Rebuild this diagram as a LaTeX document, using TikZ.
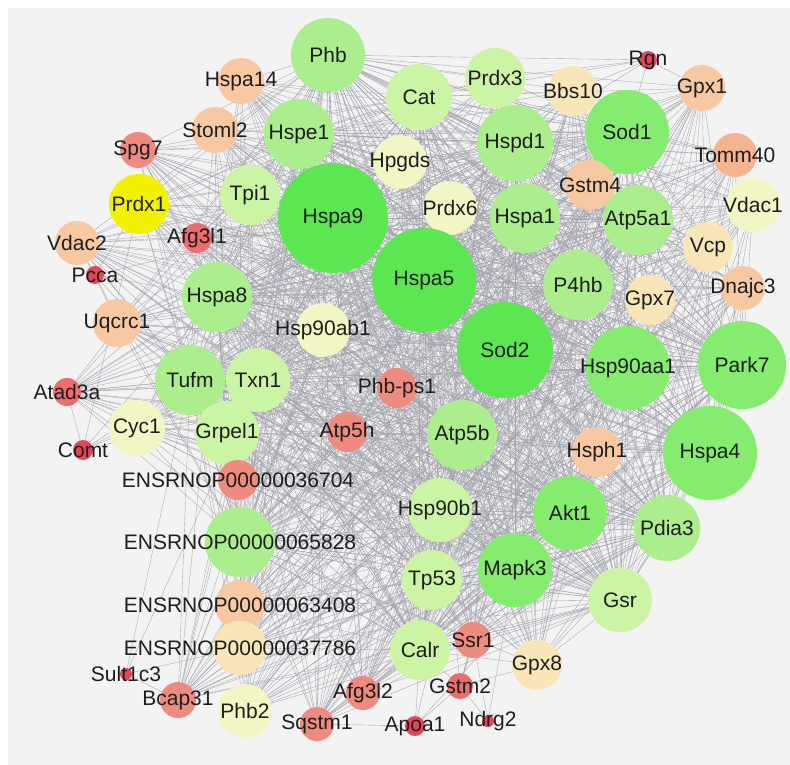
\documentclass[tikz,border=0pt]{standalone}
\usepackage{fontspec}
\setmainfont{Liberation Sans}
\definecolor{cDG}{HTML}{5CE652}
\definecolor{cMG}{HTML}{86EC70}
\definecolor{cLG}{HTML}{ACEE8E}
\definecolor{cYG}{HTML}{CBF4A4}
\definecolor{cPY}{HTML}{F2F5C4}
\definecolor{cTa}{HTML}{F9E6B8}
\definecolor{cPe}{HTML}{F8C8A2}
\definecolor{cPe2}{HTML}{F5B490}
\definecolor{cSa}{HTML}{EF8A80}
\definecolor{cRd2}{HTML}{EC6C70}
\definecolor{cRd}{HTML}{E4455A}
\definecolor{cYe}{HTML}{F2F200}
\definecolor{bgc}{HTML}{F3F3F3}
\definecolor{edgec}{HTML}{A4A4AE}
\definecolor{lblc}{HTML}{1E1E1E}
\pgfdeclarelayer{edges}
\pgfdeclarelayer{labels}
\pgfsetlayers{edges,main,labels}
\tikzset{
  gnode/.style={circle, inner sep=0pt, draw=none},
  glabel/.style={font=\fontsize{21}{25}\selectfont, text=lblc, inner sep=0pt},
  gedge/.style={draw=edgec, line width=0.35pt},
}
\newcommand\gn[6]{%
  \node[gnode, minimum size=#4*2pt, fill=#5] (#1) at (#2,#3) {};
  \begin{pgfonlayer}{labels}\node[glabel] (#1-t) at (#1) {#6};\end{pgfonlayer}}
\begin{document}
\begin{tikzpicture}[x=1pt,y=-1pt]
\begin{pgfonlayer}{edges}
\fill[white] (0,0) rectangle (790,765);
\fill[bgc] (8,8) rectangle (790,765);
\end{pgfonlayer}
\useasboundingbox (0,0) rectangle (790,765);
\gn{Phb}{328}{55}{37}{cLG}{Phb}
\gn{Hspa14}{241}{81}{23}{cPe}{Hspa14}
\gn{Stoml2}{215}{130}{23}{cPe}{Stoml2}
\gn{Spg7}{138}{150}{18}{cSa}{Spg7}
\gn{Prdx1}{139}{204}{30}{cYe}{Prdx1}
\gn{Hspe1}{299}{134}{35}{cLG}{Hspe1}
\gn{Tpi1}{250}{195}{30}{cYG}{Tpi1}
\gn{Hspa9}{333}{218}{55}{cDG}{Hspa9}
\gn{Afg3l1}{197}{238}{15}{cRd2}{Afg3l1}
\gn{Vdac2}{77}{243}{22}{cPe}{Vdac2}
\gn{Hpgds}{400}{162}{27}{cPY}{Hpgds}
\gn{Cat}{419}{97}{33}{cYG}{Cat}
\gn{Prdx3}{495}{78}{30}{cYG}{Prdx3}
\gn{Bbs10}{573}{91}{25}{cTa}{Bbs10}
\gn{Rgn}{648}{60}{9}{cRd}{Rgn}
\gn{Gpx1}{702}{88}{23}{cPe}{Gpx1}
\gn{Sod1}{627}{132}{42}{cMG}{Sod1}
\gn{Hspd1}{515}{143}{38}{cLG}{Hspd1}
\gn{Tomm40}{735}{155}{22}{cPe2}{Tomm40}
\gn{Gstm4}{590}{185}{25}{cPe}{Gstm4}
\gn{Vdac1}{753}{205}{27}{cPY}{Vdac1}
\gn{Prdx6}{450}{208}{27}{cPY}{Prdx6}
\gn{Hspa1}{525}{218}{35}{cLG}{Hspa1}
\gn{Atp5a1}{638}{220}{35}{cLG}{Atp5a1}
\gn{Vcp}{708}{247}{25}{cTa}{Vcp}
\gn{Hspa5}{424}{280}{52}{cDG}{Hspa5}
\gn{P4hb}{578}{285}{35}{cLG}{P4hb}
\gn{Gpx7}{650}{300}{25}{cTa}{Gpx7}
\gn{Dnajc3}{743}{288}{22}{cPe}{Dnajc3}
\gn{Sod2}{505}{350}{48}{cDG}{Sod2}
\gn{Hsp90aa1}{628}{368}{42}{cMG}{Hsp90aa1}
\gn{Park7}{742}{365}{44}{cMG}{Park7}
\gn{Atp5b}{462}{435}{35}{cLG}{Atp5b}
\gn{Hsph1}{597}{452}{25}{cPe}{Hsph1}
\gn{Hspa4}{710}{453}{47}{cMG}{Hspa4}
\gn{Hspa8}{217}{297}{35}{cLG}{Hspa8}
\gn{Pcca}{95}{275}{9}{cRd}{Pcca}
\gn{Uqcrc1}{117}{323}{24}{cPe}{Uqcrc1}
\gn{Hsp90ab1}{323}{330}{27}{cPY}{Hsp90ab1}
\gn{Tufm}{190}{380}{35}{cLG}{Tufm}
\gn{Txn1}{258}{380}{32}{cYG}{Txn1}
\gn{Phbps1}{397}{388}{20}{cSa}{Phb-ps1}
\gn{Atad3a}{67}{392}{14}{cRd2}{Atad3a}
\gn{Cyc1}{137}{428}{28}{cPY}{Cyc1}
\gn{Grpel1}{227}{433}{32}{cYG}{Grpel1}
\gn{Atp5h}{347}{432}{20}{cSa}{Atp5h}
\gn{Comt}{83}{450}{10}{cRd}{Comt}
\gn{E36704}{238}{480}{20}{cSa}{ENSRNOP00000036704}
\gn{E65828}{240}{542}{35}{cLG}{ENSRNOP00000065828}
\gn{E63408}{240}{605}{25}{cPe}{ENSRNOP00000063408}
\gn{E37786}{240}{648}{27}{cTa}{ENSRNOP00000037786}
\gn{Sult1c3}{126}{674}{6}{cRd}{Sult1c3}
\gn{Bcap31}{178}{700}{18}{cSa}{Bcap31}
\gn{Phb2}{245}{711}{27}{cPY}{Phb2}
\gn{Sqstm1}{317}{724}{17}{cSa}{Sqstm1}
\gn{Afg3l2}{363}{693}{17}{cSa}{Afg3l2}
\gn{Apoa1}{415}{726}{10}{cRd}{Apoa1}
\gn{Calr}{420}{650}{30}{cYG}{Calr}
\gn{Ssr1}{473}{640}{18}{cSa}{Ssr1}
\gn{Gstm2}{460}{686}{13}{cRd2}{Gstm2}
\gn{Ndrg2}{488}{721}{6}{cRd}{Ndrg2}
\gn{Gpx8}{537}{665}{25}{cTa}{Gpx8}
\gn{Gsr}{620}{600}{32}{cYG}{Gsr}
\gn{Pdia3}{667}{528}{33}{cLG}{Pdia3}
\gn{Mapk3}{515}{570}{37}{cMG}{Mapk3}
\gn{Akt1}{570}{513}{37}{cMG}{Akt1}
\gn{Tp53}{432}{580}{30}{cYG}{Tp53}
\gn{Hsp90b1}{440}{510}{32}{cYG}{Hsp90b1}
\begin{pgfonlayer}{edges}
\foreach \a in {Hspa9,Hspa5,Sod2,Sod1,Hsp90aa1,Park7,Hspa4,Hspd1,Hspa1,Atp5a1,P4hb,Phb,Hspe1,Hspa8}{
  \foreach \b in {Hspa9,Hspa5,Sod2,Sod1,Hsp90aa1,Park7,Hspa4,Hspd1,Hspa1,Atp5a1,P4hb,Phb,Hspe1,Hspa8,
    Tufm,Mapk3,Akt1,E65828,Pdia3,Atp5b,Txn1,Cat,Tp53,Hsp90b1,Calr,Gsr,
    Hspa14,Stoml2,Spg7,Prdx1,Tpi1,Afg3l1,Vdac2,Hpgds,Prdx3,Bbs10,Gpx1,Tomm40,Gstm4,Vdac1,Prdx6,Vcp,Gpx7,Dnajc3,Hsph1,
    Uqcrc1,Hsp90ab1,Phbps1,Atad3a,Cyc1,Grpel1,Atp5h,E36704,E63408,E37786,Bcap31,Phb2,Sqstm1,Afg3l2,Ssr1,Gpx8}{
    \ifx\a\b\else\draw[gedge] (\a) -- (\b);\fi }}
\foreach \a in {Tufm,Mapk3,Akt1,E65828,Pdia3,Atp5b,Txn1,Cat,Tp53,Hsp90b1,Calr,Gsr}{
  \foreach \b in {Tufm,Mapk3,Akt1,E65828,Pdia3,Atp5b,Txn1,Cat,Tp53,Hsp90b1,Calr,Gsr,
    Hspa14,Stoml2,Spg7,Prdx1,Tpi1,Afg3l1,Vdac2,Hpgds,Prdx3,Bbs10,Gpx1,Tomm40,Gstm4,Vdac1,Prdx6,Vcp,Gpx7,Dnajc3,Hsph1,
    Uqcrc1,Hsp90ab1,Phbps1,Atad3a,Cyc1,Grpel1,Atp5h,E36704,E63408,E37786,Bcap31,Phb2,Sqstm1,Afg3l2,Ssr1,Gpx8}{
    \ifx\a\b\else\draw[gedge] (\a) -- (\b);\fi }}
\foreach \b in {Sod1,Gpx1,Bbs10,Prdx3,Cat,Hspd1,Phb}{\draw[gedge] (Rgn) -- (\b);}
\foreach \b in {Vdac2,Prdx1,Hspa9,Hspa8,Uqcrc1,Tufm}{\draw[gedge] (Pcca) -- (\b);}
\foreach \b in {Atad3a,Cyc1,Hspa8,Tufm,Sod2,Hspa5,Prdx1}{\draw[gedge] (Comt) -- (\b);}
\foreach \b in {Bcap31,E37786,Hspa9,Tufm}{\draw[gedge] (Sult1c3) -- (\b);}
\foreach \b in {Calr,Gstm2,Sqstm1,Sod2,Park7}{\draw[gedge] (Apoa1) -- (\b);}
\foreach \b in {Ssr1,Calr,Gpx8,Ndrg2,Sod1,Gstm4,Hspa5}{\draw[gedge] (Gstm2) -- (\b);}
\foreach \b in {Ssr1,Mapk3}{\draw[gedge] (Ndrg2) -- (\b);}
\end{pgfonlayer}
\end{tikzpicture}
\end{document}
